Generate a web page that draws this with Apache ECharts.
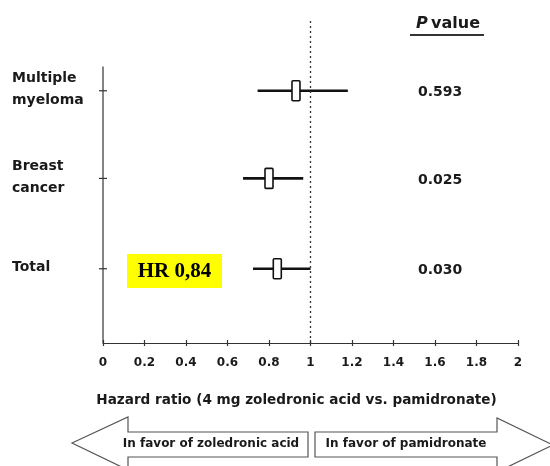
<!DOCTYPE html>
<html>
<head>
<meta charset="utf-8">
<script src="https://cdn.jsdelivr.net/npm/echarts@6/dist/echarts.min.js"></script>
<style>html,body{margin:0;padding:0;background:#fff}#c{width:550px;height:466px}</style>
</head>
<body>
<div id="c"></div>
<script>
// Data
var categories = ['Multiple\nmyeloma', 'Breast\ncancer', 'Total'];
var hazardRatio = [0.93, 0.80, 0.84];
var ciLow = [0.745, 0.675, 0.723];
var ciHigh = [1.18, 0.965, 1.0];
var pValues = ['0.593', '0.025', '0.030'];
var xTicks = [0, 0.2, 0.4, 0.6, 0.8, 1, 1.2, 1.4, 1.6, 1.8, 2];

// layout (row heights on the y scale)
var rowY = [2.82, 1.84, 0.83];
var pColX = 1.625;
var yAxisTop = 3.09;

var chart = echarts.init(document.getElementById('c'));
var FONT = 'DejaVu Sans, Verdana, sans-serif';
var INK = '#1a1a1a';

var forestData = categories.map(function (c, i) {
  return [hazardRatio[i], rowY[i], ciLow[i], ciHigh[i]];
});

var option = {
  animation: false,
  backgroundColor: '#fff',
  grid: { left: 103, right: 32, top: 21, bottom: 123 },
  xAxis: [{
    type: 'value', min: 0, max: 2, interval: 0.2,
    axisLine: { lineStyle: { color: '#333', width: 1.2 } },
    axisTick: { show: true, length: 3, lineStyle: { color: '#333', width: 1.2 } },
    splitLine: { show: false },
    axisLabel: {
      margin: 14, color: INK, fontFamily: FONT, fontWeight: 'bold', fontSize: 12,
      formatter: function (v) {
        var r = Math.round(v * 10) / 10;
        return xTicks.indexOf(r) >= 0 ? String(r) : '';
      }
    },
    name: 'Hazard ratio (4 mg zoledronic acid vs. pamidronate)',
    nameLocation: 'middle', nameGap: 50,
    nameTextStyle: { color: INK, fontFamily: FONT, fontWeight: 'bold', fontSize: 13.6, padding: [0, 28, 0, 0] }
  }, {
    type: 'value', min: 0, max: 2, interval: 0.2, position: 'bottom',
    axisLine: { show: false },
    axisTick: { show: true, inside: true, length: 3, lineStyle: { color: '#333', width: 1.2 } },
    axisLabel: { show: false }, splitLine: { show: false }
  }],
  yAxis: {
    type: 'value', min: 0, max: 3.6, show: false
  },
  series: [{
    type: 'line',
    data: [[0, 0], [0, yAxisTop]],
    symbol: 'none',
    lineStyle: { color: '#333', width: 1.2 },
    silent: true,
    markLine: {
      silent: true, symbol: 'none', label: { show: false },
      lineStyle: { type: [2, 3], color: '#333', width: 1.3 },
      data: [{ xAxis: 1 }]
    }
  }, {
    // y ticks and row labels
    type: 'scatter',
    data: rowY.map(function (y, i) { return { value: [0, y], name: categories[i] }; }),
    symbol: 'rect', symbolSize: [8, 1.2],
    itemStyle: { color: '#333', opacity: 1 },
    label: {
      show: true, position: 'inside', align: 'left', verticalAlign: 'middle',
      offset: [-91, -1], color: INK, fontFamily: FONT, fontWeight: 'bold', fontSize: 14,
      lineHeight: 22, opacity: 1, textBorderWidth: 0,
      formatter: function (p) { return p.name; }
    },
    silent: true
  }, {
    // p values
    type: 'scatter',
    data: rowY.map(function (y, i) { return { value: [pColX, y], name: pValues[i] }; }),
    symbolSize: 0,
    itemStyle: { opacity: 1 },
    label: {
      show: true, position: 'inside', color: INK, fontFamily: FONT,
      fontWeight: 'bold', fontSize: 14, offset: [0, 2], opacity: 1, textBorderWidth: 0,
      formatter: function (p) { return p.name; }
    },
    silent: true
  }, {
    type: 'custom',
    data: forestData,
    encode: { x: 0, y: 1 },
    renderItem: function (params, api) {
      var y = api.value(1);
      var c = api.coord([api.value(0), y]);
      var lo = api.coord([api.value(2), y]);
      var hi = api.coord([api.value(3), y]);
      var w = 8, h = 20;
      return {
        type: 'group',
        children: [{
          type: 'line',
          shape: { x1: lo[0], y1: c[1], x2: hi[0], y2: c[1] },
          style: { stroke: '#111', lineWidth: 2.6 }
        }, {
          type: 'rect',
          shape: { x: c[0] - w / 2, y: c[1] - h / 2, width: w, height: h, r: 1 },
          style: { fill: '#fff', stroke: '#111', lineWidth: 1.6 }
        }]
      };
    },
    silent: true
  }],
  graphic: [
    { type: 'text', x: 448, y: 24,
      style: { rich: { i: { fontStyle: 'italic', fontWeight: 'bold', fontSize: 16, fontFamily: FONT, fill: INK },
                        n: { fontWeight: 'bold', fontSize: 16, fontFamily: FONT, fill: INK } },
               text: '{i|P} {n|value}', align: 'center', verticalAlign: 'middle' } },
    { type: 'line', shape: { x1: 410, y1: 35, x2: 484, y2: 35 }, style: { stroke: '#333', lineWidth: 1.8 } },
    { type: 'rect', shape: { x: 127, y: 254, width: 95, height: 34 }, style: { fill: '#ffff00' } },
    { type: 'text', x: 174.5, y: 272,
      style: { text: 'HR 0,84', fontFamily: 'Liberation Serif, Times New Roman, serif', fontWeight: 'bold',
               fontSize: 21, fill: '#000', align: 'center', verticalAlign: 'middle' } },
    { type: 'polygon',
      shape: { points: [[72, 443], [128, 417], [128, 432], [308, 432], [308, 457], [128, 457], [128, 470]] },
      style: { fill: '#fff', stroke: '#555', lineWidth: 1.2 } },
    { type: 'polygon',
      shape: { points: [[315, 432], [497, 432], [497, 418], [553, 445], [497, 472], [497, 457], [315, 457]] },
      style: { fill: '#fff', stroke: '#555', lineWidth: 1.2 } },
    { type: 'text', x: 211, y: 444,
      style: { text: 'In favor of zoledronic acid', fontFamily: FONT, fontWeight: 'bold', fontSize: 12,
               fill: INK, align: 'center', verticalAlign: 'middle' } },
    { type: 'text', x: 406, y: 444,
      style: { text: 'In favor of pamidronate', fontFamily: FONT, fontWeight: 'bold', fontSize: 12,
               fill: INK, align: 'center', verticalAlign: 'middle' } }
  ]
};
chart.setOption(option);
</script>
</body>
</html>
